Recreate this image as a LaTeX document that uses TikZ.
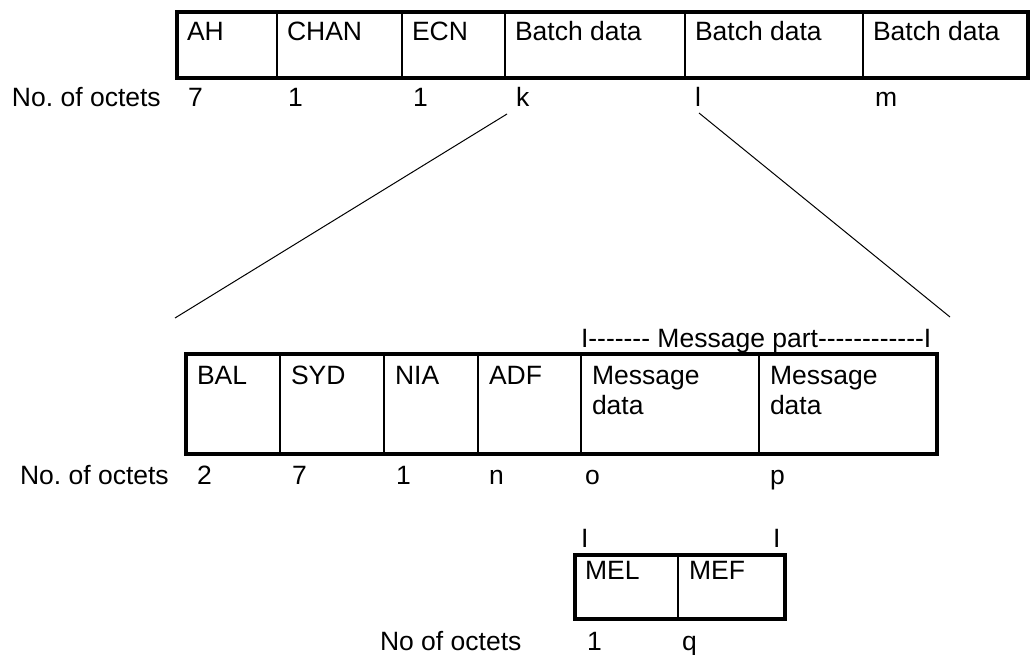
\documentclass[tikz,border=0pt]{standalone}
\usepackage{fontspec}
\setmainfont{Liberation Sans}
\begin{document}
\frenchspacing
\begin{tikzpicture}[x=1pt,y=-1pt,
  every node/.style={font=\fontsize{26.5}{31}\selectfont, inner sep=0pt, outer sep=0pt},
  frame/.style={draw, line width=4pt, rectangle, anchor=north west, inner sep=0pt},
  divider/.style={line width=2pt},
  txt/.style={anchor=base west},
  zoomline/.style={line width=1pt}]
\useasboundingbox (0,0) rectangle (1031,655);
% ---------- top frame ----------
\node[frame, minimum width=851pt, minimum height=66pt] (topbox) at (177,12) {};
\foreach \x in {277,402,505,685,863}
  \draw[divider] (\x,12) -- (\x,78);
\node[txt] (ah) at (187,41) {AH};
\node[txt] (chan) at (287,41) {CHAN};
\node[txt] (ecn) at (412,41) {ECN};
\node[txt] (bd1) at (515,41) {Batch data};
\node[txt] (bd2) at (695,41) {Batch data};
\node[txt] (bd3) at (873,41) {Batch data};
\node[txt] (oct1) at (12,107) {No. of octets};
\node[txt] (n7) at (188,107) {7};
\node[txt] (n1a) at (288,107) {1};
\node[txt] (n1b) at (413,107) {1};
\node[txt] (nk) at (516,107) {k};
\node[txt] (nl) at (695,107) {l};
\node[txt] (nm) at (875,107) {m};
% ---------- zoom lines ----------
\coordinate (kfoot) at (507,114);
\coordinate (lfoot) at (699,113);
\coordinate (leftend) at (175,318);
\coordinate (rightend) at (950,317);
\draw[zoomline] (kfoot) -- (leftend);
\draw[zoomline] (lfoot) -- (rightend);
% ---------- middle frame ----------
\node[txt] (mpart) at (581,347) {I-{}-{}-{}-{}-{}-{}- Message part-{}-{}-{}-{}-{}-{}-{}-{}-{}-{}-{}-I};
\node[frame, minimum width=751pt, minimum height=100pt] (midbox) at (186,354) {};
\foreach \x in {280,384,478,581,759}
  \draw[divider] (\x,354) -- (\x,454);
\node[txt] (bal) at (197,384) {BAL};
\node[txt] (syd) at (291,384) {SYD};
\node[txt] (nia) at (395,384) {NIA};
\node[txt] (adf) at (489,384) {ADF};
\node[txt] (md1) at (592,384) {Message};
\node[txt] (md1b) at (592,414) {data};
\node[txt] (md2) at (770,384) {Message};
\node[txt] (md2b) at (770,414) {data};
\node[txt] (oct2) at (20,484) {No. of octets};
\node[txt] (m2) at (197,484) {2};
\node[txt] (m7) at (292,484) {7};
\node[txt] (m1) at (396,484) {1};
\node[txt] (mn) at (489,484) {n};
\node[txt] (mo) at (585,484) {o};
\node[txt] (mp) at (770,484) {p};
% ---------- bottom frame ----------
\node[txt] (bar1) at (581,547) {I};
\node[txt] (bar2) at (773,547) {I};
\node[frame, minimum width=210pt, minimum height=64pt] (botbox) at (575,555) {};
\draw[divider] (678,555) -- (678,619);
\node[txt] (mel) at (585,579) {MEL};
\node[txt] (mef) at (689,579) {MEF};
\node[txt] (oct3) at (380,650) {No of octets};
\node[txt] (b1) at (587,650) {1};
\node[txt] (bq) at (682,650) {q};
\end{tikzpicture}
\end{document}
